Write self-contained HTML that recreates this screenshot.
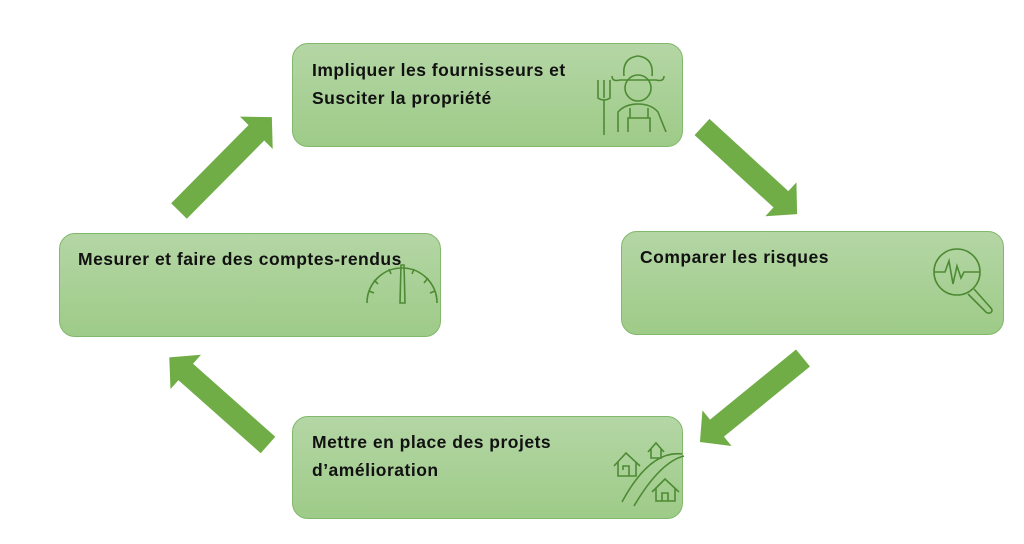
<!DOCTYPE html>
<html><head><meta charset="utf-8"><style>
html,body{margin:0;padding:0;background:#fff;}
body{width:1024px;height:544px;position:relative;overflow:hidden;font-family:"Liberation Sans",sans-serif;}
.b{position:absolute;box-sizing:border-box;border:1.5px solid #82b86b;border-radius:16px;background:linear-gradient(#b4d6a5,#9ecb88);}
.t{position:absolute;font-weight:bold;font-size:17.5px;color:#111;line-height:28px;letter-spacing:0.5px;}
svg{position:absolute;left:0;top:0;}
</style></head><body>
<div class="b" style="left:292px;top:43px;width:391px;height:104px"></div>
<div class="b" style="left:621px;top:231px;width:383px;height:104px"></div>
<div class="b" style="left:292px;top:416px;width:391px;height:103px"></div>
<div class="b" style="left:59px;top:233px;width:382px;height:104px"></div>
<div class="t" style="left:312px;top:56px">Impliquer les fournisseurs et<br>Susciter la propriété</div>
<div class="t" style="left:640px;top:243px">Comparer les risques</div>
<div class="t" style="left:312px;top:428px">Mettre en place des projets<br>d’amélioration</div>
<div class="t" style="left:78px;top:245px">Mesurer et faire des comptes-rendus</div>
<svg width="1024" height="544">
<g fill="#70ad47">
<polygon points="0,-11 107,-11 107,-23 129,0 107,23 107,11 0,11" transform="translate(702,127) rotate(42.5)"/>
<polygon points="0,-11 111,-11 111,-23 133,0 111,23 111,11 0,11" transform="translate(803,358) rotate(140.8)"/>
<polygon points="0,-11 110,-11 110,-23 132,0 110,23 110,11 0,11" transform="translate(268,445) rotate(221.6)"/>
<polygon points="0,-11 110,-11 110,-23 132,0 110,23 110,11 0,11" transform="translate(179,211) rotate(-45.3)"/>
</g>
<g fill="none" stroke="#4e8a34" stroke-width="1.6">
<!-- farmer -->
<path d="M624 76 Q622 58 638 56 Q654 58 652 76"/>
<path d="M612 76 Q612 82 620 80 L656 80 Q664 82 664 76"/>
<circle cx="638" cy="88" r="13"/>
<path d="M618 132 L618 112 Q625 104 638 104 Q651 104 658 112 L666 132"/>
<path d="M628 132 L628 118 L650 118 L650 132 M630 108 L630 118 M648 108 L648 118"/>
<path d="M604 135 L604 100 M598 80 L598 98 Q604 102 610 98 L610 80 M604 80 L604 98"/>
<!-- magnifier -->
<circle cx="957" cy="272" r="23"/>
<path d="M934 272 L945 272 L949 261 L953 284 L957 266 L961 278 L964 272 L980 272"/>
<path d="M974 289 L990 307 Q994 311 990 313 Q987 314 984 310 L968 294"/>
<!-- gauge -->
<path d="M367 303 A35 35 0 0 1 437 303"/>
<path d="M374 280 L378 284 M389 269 L391 274 M414 269 L412 274 M428 278 L424 283 M369 291 L374 293 M435 291 L430 293"/>
<path d="M401 265 L404 265 L405 303 L400 303 Z"/>
<!-- houses -->
<path d="M622 502 Q650 450 682 454 M634 506 Q660 462 684 456"/>
<path d="M614 466 L626 453 L640 466 M618 462 L618 476 L636 476 L636 462 M623 470 L623 466 L629 466 L629 476"/>
<path d="M648 452 L656 443 L664 452 M651 449 L651 458 L661 458 L661 449"/>
<path d="M652 492 L665 479 L679 492 M656 488 L656 501 L675 501 L675 488 M662 501 L662 493 L668 493 L668 501"/>
</g>
</svg>
</body></html>
